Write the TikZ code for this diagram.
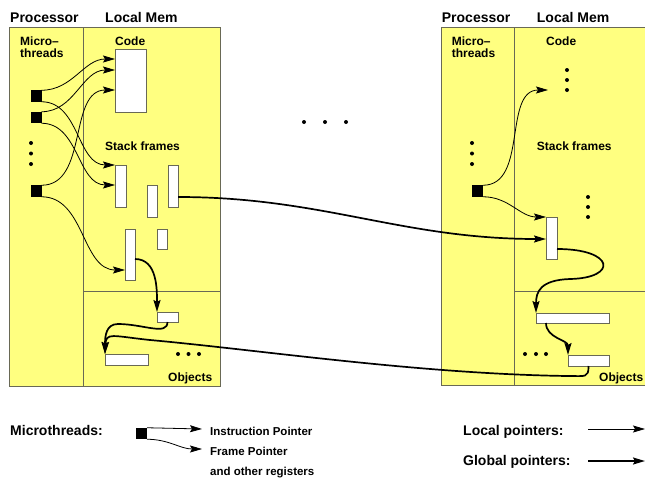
\documentclass[tikz,border=0pt]{standalone}
\usepackage{fontspec}
\setmainfont{Liberation Sans}
\usetikzlibrary{arrows.meta,calc,positioning}
\definecolor{memyellow}{RGB}{255,255,128}
\definecolor{memframe}{RGB}{105,105,85}
\tikzset{>={Stealth[length=12pt,width=7pt,inset=2pt]}}

\begin{document}
\begin{tikzpicture}[x=1pt,y=-1pt,
    panel/.style={fill=memyellow,draw=memframe,line width=0.8pt},
    divider/.style={draw=memframe,line width=0.8pt},
    membox/.style={draw=memframe,fill=white,line width=0.6pt,inner sep=0pt,outer sep=0pt},
    thread/.style={fill=black,inner sep=0pt,outer sep=0pt,minimum width=11pt,minimum height=11.5pt},
    reg/.style={->,line width=0.8pt},
    lptr/.style={->,line width=1.7pt},
    gptr/.style={->,line width=1.7pt},
    heading/.style={font=\fontsize{14}{16}\selectfont\bfseries,anchor=base west,inner sep=0pt},
    lbl/.style={font=\fontsize{12}{13}\selectfont\bfseries,anchor=base west,inner sep=0pt},
    legtext/.style={font=\fontsize{11.5}{13}\selectfont\bfseries,anchor=base west,inner sep=0pt}]
    \useasboundingbox (0,0) rectangle (645,477);

    % left node
    \draw[panel] (9,27) rectangle (220,386);
    \draw[divider] (83,27) -- (83,386);
    \draw[divider] (83,291) -- (220,291);
    \node[heading] (procL) at (10,22.7) {Processor};
    \node[heading] (memL) at (105,22.7) {Local Mem};
    \node[lbl] (microL) at (20,45.7) {Micro--};
    \node[lbl] (threadsL) at (20,57.3) {threads};
    \node[lbl] (codeLblL) at (115,45) {Code};
    \node[lbl] (stackLblL) at (105,150) {Stack frames};
    \node[lbl] (objLblL) at (168,381.7) {Objects};

    \node[membox,minimum width=31pt,minimum height=63pt] (codeL) at (130.5,80.5) {};
    \node[membox,minimum width=11pt,minimum height=42pt] (sfA) at (120.5,186) {};
    \node[membox,minimum width=10pt,minimum height=32pt] (sfB) at (152,201) {};
    \node[membox,minimum width=10pt,minimum height=42pt] (sfC) at (173,186) {};
    \node[membox,minimum width=10pt,minimum height=51pt] (sfD) at (130,254.5) {};
    \node[membox,minimum width=10pt,minimum height=20pt] (sfE) at (162,239) {};
    \node[membox,minimum width=21pt,minimum height=10pt] (objA) at (167.5,317) {};
    \node[membox,minimum width=43pt,minimum height=11pt] (objB) at (126.5,359.5) {};

    \node[thread] (tA) at (36,96) {};
    \node[thread] (tB) at (36,117.5) {};
    \node[thread] (tC) at (36,191) {};
    \foreach \y in {143,153.5,164} \fill (31,\y) circle (2pt);
    \foreach \x in {178,188.5,199} \fill (\x,354) circle (2pt);

    \draw[reg] (tA.north east) to[out=0,in=180] ([yshift=-10pt]codeL.north west);
    \draw[reg] (tA.south east) to[out=0,in=180] (sfA.north west);
    \draw[reg] (tB.north east) to[out=0,in=180] ([yshift=-21pt]codeL.north west);
    \draw[reg] (tB.south east) to[out=0,in=180] ([yshift=-20pt]sfA.north west);
    \draw[reg] (tC.north east) to[out=0,in=180] ([yshift=-41pt]codeL.north west);
    \draw[reg] (tC.south east) to[out=0,in=180] ([yshift=-41pt]sfD.north west);

    \draw[lptr] ([yshift=-30pt]sfD.north east) to[out=0,in=90] (objA.north west);
    \draw[lptr] (objA.south) .. controls +(0,14) and +(25,0) .. (118,324)
        .. controls +(-12,0) and +(0,-18) .. (objB.north west);

    % middle
    \foreach \x in {304,325,346} \fill (\x,122) circle (2pt);

    % right node
    \draw[panel] (441,27) rectangle (647,385);
    \draw[divider] (514,27) -- (514,385);
    \draw[divider] (514,291) -- (647,291);
    \node[heading] (procR) at (441.7,22.7) {Processor};
    \node[heading] (memR) at (536.7,22.7) {Local Mem};
    \node[lbl] (microR) at (451.7,45.7) {Micro--};
    \node[lbl] (threadsR) at (451.7,57.3) {threads};
    \node[lbl] (codeLblR) at (546,45) {Code};
    \node[lbl] (stackLblR) at (536.7,150) {Stack frames};
    \node[lbl] (objLblR) at (599,381.7) {Objects};

    \node[membox,minimum width=11pt,minimum height=42pt] (sfR) at (551.5,238) {};
    \node[membox,minimum width=73pt,minimum height=10pt] (objR1) at (572.5,318) {};
    \node[membox,minimum width=41pt,minimum height=11pt] (objR2) at (588.5,360.5) {};
    \node[thread] (tR) at (477.5,191) {};
    \coordinate (codeR) at (548,90);
    \foreach \y in {143,153.5,164} \fill (472,\y) circle (2pt);
    \foreach \y in {70,80,90} \fill (567,\y) circle (2pt);
    \foreach \y in {197,207,217} \fill (588,\y) circle (2pt);
    \foreach \x in {525,536,546} \fill (\x,354) circle (2pt);

    \draw[reg] (tR.north east) to[out=0,in=180] (codeR);
    \draw[reg] (tR.south east) to[out=0,in=180] (sfR.north west);
    \draw[lptr] ([yshift=-32pt]sfR.north east) .. controls (615,249) and (618,278) .. (570,279)
        .. controls (540,280) and (536,292) .. (objR1.north west);
    \draw[lptr] ([xshift=10pt]objR1.south west) to[out=-90,in=90] (objR2.north west);

    % global pointers
    \draw[gptr] ([yshift=-32pt]sfC.north east) to[out=0,in=180] ([yshift=-22pt]sfR.north west);
    \draw[gptr] (objR2.south) .. controls +(0,12) and +(18,0) .. (568,376)
        .. controls (420,374) and (260,350) .. (150,340)
        .. controls (112,336) and (106,332) .. (objB.north west);

    % legend
    \node[heading] (legMicro) at (10,435) {Microthreads:};
    \node[thread] (tLeg) at (141.5,433.5) {};
    \node[legtext] (ipText) at (210,435) {Instruction Pointer};
    \node[legtext] (fpText) at (210,455) {Frame Pointer};
    \node[legtext] (orText) at (210,475) {and other registers};
    \coordinate (ipTip) at (202,429);
    \coordinate (fpTip) at (202,449);
    \draw[reg] (tLeg.north east) -- (ipTip);
    \draw[reg] (tLeg.south east) to[out=0,in=180] (fpTip);

    \node[heading] (legLocal) at (463,435) {Local pointers:};
    \node[heading] (legGlobal) at (463,465) {Global pointers:};
    \coordinate (lpStart) at (588,429);
    \coordinate (lpEnd) at (645,429);
    \coordinate (gpStart) at (588,461);
    \coordinate (gpEnd) at (645,461);
    \draw[reg] (lpStart) -- (lpEnd);
    \draw[gptr] (gpStart) -- (gpEnd);
\end{tikzpicture}
\end{document}
